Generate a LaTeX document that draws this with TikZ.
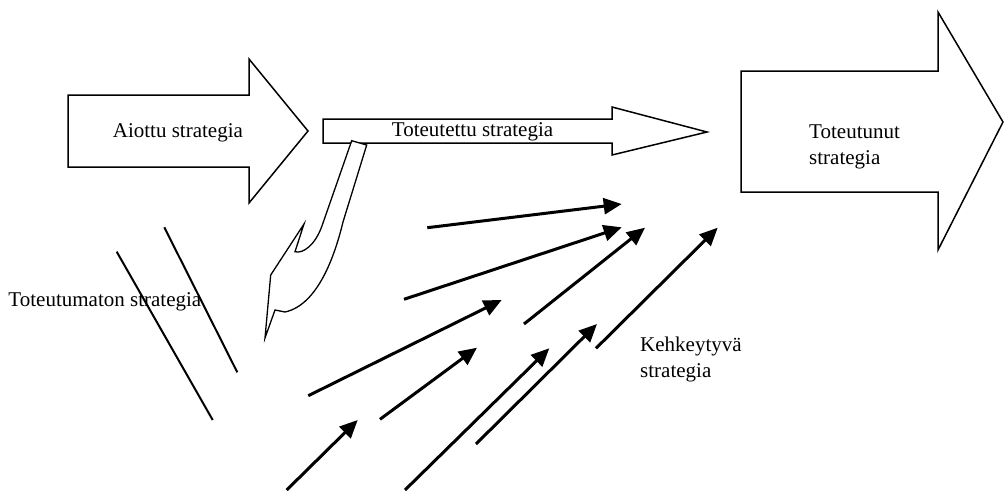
\documentclass[tikz,border=0pt]{standalone}
\usepackage{fontspec}
\setmainfont{Liberation Serif}
\usetikzlibrary{arrows.meta}
\begin{document}
\begin{tikzpicture}[x=1pt,y=-1pt,
  blockarrow/.style={draw=black,fill=white,line width=1.5pt,line join=miter},
  flow/.style={line width=3pt,-{Triangle[length=18pt,width=16pt]}},
  thinline/.style={line width=2pt},
  lbl/.style={font=\fontsize{21}{26}\selectfont,inner sep=0pt,anchor=base west,align=left}]
\useasboundingbox (0,0) rectangle (1004,490);

% intended strategy
\draw[blockarrow] (68,95) -- (249,95) -- (249,59) -- (308,131) -- (249,203)
  -- (249,167) -- (68,167) -- cycle;
\node[lbl] (aiottu) at (112.7,137.3) {Aiottu strategia};

% realised strategy
\draw[blockarrow] (741,71) -- (938,71) -- (938,12) -- (1003,122) -- (938,250)
  -- (938,192) -- (741,192) -- cycle;
\node[lbl] (toteutunut) at (809,164) {Toteutunut\\strategia};

% deliberate strategy
\draw[blockarrow] (323,119) -- (612,119) -- (612,107) -- (707,132) -- (612,155)
  -- (612,143) -- (323,143) -- cycle;
\node[lbl] (toteutettu) at (391.7,136.7) {Toteutettu strategia};

% unrealised strategy: bent arrow leaving the deliberate one
\draw[blockarrow,line width=1.3pt] (351.7,140.7) -- (366.7,145) -- (343,222)
  .. controls (335,255) and (318,305) .. (285,312) -- (275,310) -- (265,338)
  -- (270.7,275) -- (304,224) -- (295,251.7)
  .. controls (303,254) and (315,245) .. (321.7,226.7) -- cycle;

\node[lbl] (toteutumaton) at (8.3,306) {Toteutumaton strategia};
\draw[thinline] (116.7,251.7) -- (212.7,420);
\draw[thinline] (164.3,227.3) -- (237.3,372.3);

% emergent strategy arrows
\draw[flow] (427.3,227.7) -- (621.7,204);
\draw[flow] (404,299.3) -- (621.7,227.3);
\draw[flow] (308.3,395.7) -- (501.7,300);
\draw[flow] (524,324) -- (645,227.7);
\draw[flow] (380,419.3) -- (477,347.7);
\draw[flow] (286.7,490) -- (357.7,420);
\draw[flow] (405,490) -- (549.3,348.3);
\draw[flow] (476,444) -- (597,324);
\draw[flow] (596,348.3) -- (717.7,227.7);

\node[lbl] (kehkeytyva) at (640,377.3) {Kehkeytyvä\\strategia};
\end{tikzpicture}
\end{document}
